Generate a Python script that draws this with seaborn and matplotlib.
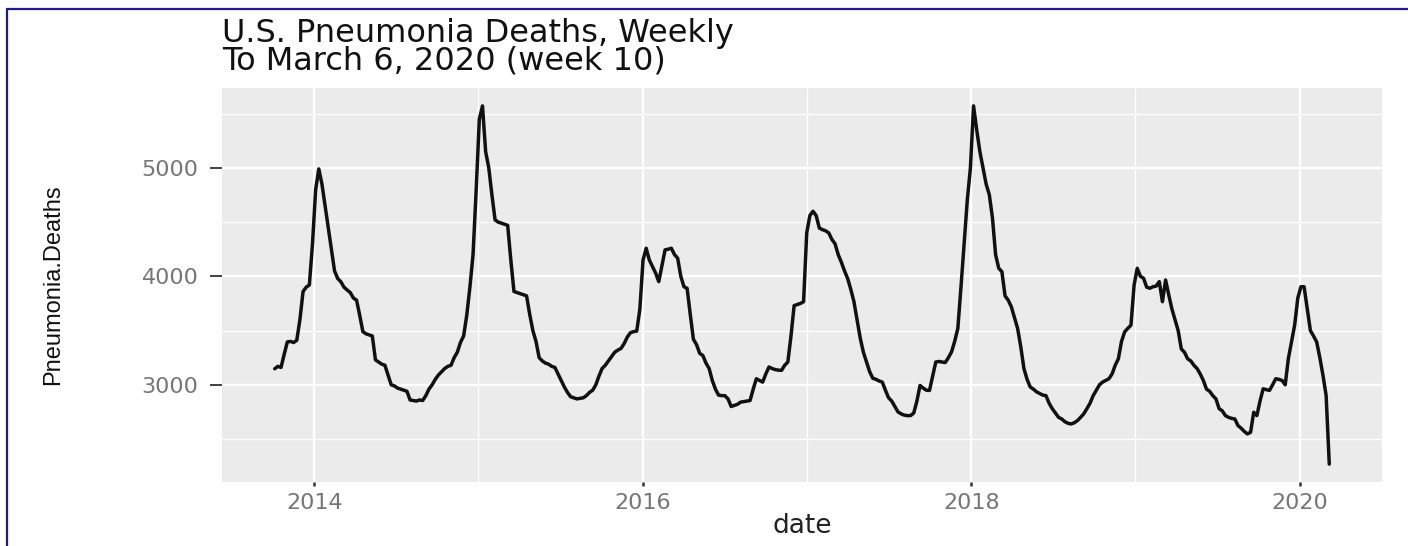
import matplotlib
matplotlib.use('Agg')
import matplotlib.pyplot as plt
import matplotlib.dates as mdates
from matplotlib import font_manager
from matplotlib.lines import Line2D
from matplotlib.ticker import FixedLocator
import seaborn as sns
import pandas as pd

# Weekly series, first week ending 2013-10-05, last week ending 2020-03-07 (week 10)
start_week = '2013-10-05'
deaths = [
    3148, 3170, 3160, 3280, 3395, 3400, 3390, 3410, 3600, 3860,
    3900, 3920, 4300, 4800, 4990, 4850, 4650, 4450, 4250, 4050,
    3980, 3950, 3900, 3874, 3850, 3800, 3780, 3640, 3490, 3470,
    3460, 3450, 3230, 3210, 3190, 3180, 3090, 3000, 2990, 2970,
    2960, 2950, 2940, 2860, 2855, 2850, 2860, 2855, 2900, 2960,
    3000, 3050, 3090, 3120, 3150, 3170, 3180, 3250, 3300, 3390,
    3450, 3640, 3900, 4200, 4800, 5450, 5571, 5150, 5000, 4750,
    4520, 4500, 4490, 4480, 4470, 4150, 3860, 3850, 3840, 3830,
    3820, 3650, 3500, 3400, 3250, 3220, 3200, 3190, 3170, 3160,
    3100, 3040, 2980, 2930, 2890, 2880, 2870, 2875, 2880, 2900,
    2930, 2950, 3000, 3080, 3150, 3180, 3220, 3260, 3300, 3320,
    3335, 3380, 3440, 3480, 3490, 3495, 3700, 4150, 4259, 4150,
    4090, 4030, 3951, 4100, 4244, 4250, 4259, 4200, 4167, 4000,
    3904, 3889, 3650, 3420, 3370, 3290, 3270, 3200, 3150, 3040,
    2960, 2905, 2900, 2900, 2870, 2800, 2810, 2820, 2840, 2845,
    2850, 2855, 2960, 3056, 3040, 3025, 3100, 3164, 3150, 3140,
    3135, 3133, 3180, 3210, 3450, 3730, 3740, 3750, 3766, 4400,
    4560, 4600, 4560, 4445, 4430, 4420, 4400, 4340, 4300, 4200,
    4130, 4050, 3980, 3880, 3766, 3600, 3430, 3300, 3210, 3120,
    3060, 3050, 3035, 3025, 2950, 2880, 2850, 2800, 2750, 2732,
    2720, 2716, 2716, 2740, 2850, 2994, 2970, 2950, 2948, 3080,
    3210, 3215, 3210, 3205, 3250, 3303, 3400, 3519, 3900, 4300,
    4700, 5000, 5571, 5350, 5150, 5000, 4850, 4753, 4540, 4200,
    4074, 4043, 3820, 3780, 3719, 3620, 3519, 3350, 3150, 3050,
    2980, 2960, 2935, 2920, 2905, 2900, 2830, 2780, 2740, 2700,
    2685, 2660, 2645, 2639, 2650, 2670, 2700, 2732, 2780, 2830,
    2900, 2950, 3000, 3025, 3040, 3056, 3100, 3180, 3240, 3400,
    3488, 3520, 3550, 3920, 4074, 4000, 3982, 3900, 3890, 3904,
    3910, 3951, 3766, 3966, 3830, 3700, 3600, 3500, 3330, 3300,
    3240, 3220, 3180, 3150, 3100, 3040, 2960, 2940, 2900, 2870,
    2780, 2760, 2716, 2700, 2690, 2685, 2624, 2600, 2570, 2547,
    2562, 2747, 2716, 2850, 2963, 2955, 2948, 3000, 3056, 3050,
    3040, 3000, 3241, 3395, 3550, 3800, 3904, 3904, 3700, 3500,
    3450, 3395, 3250, 3087, 2902, 2269,
]
y_major = [3000, 4000, 5000]
y_minor = [2500, 3500, 4500, 5500]
x_major_years = [2014, 2016, 2018, 2020]
x_minor_years = [2015, 2017, 2019]
title_lines = ['U.S. Pneumonia Deaths, Weekly', 'To March 6, 2020 (week 10)']

df = pd.DataFrame({
    'date': pd.date_range(start_week, periods=len(deaths), freq='7D'),
    'Pneumonia.Deaths': deaths,
})

sns.set_theme(style='darkgrid')
plt.rcParams['font.family'] = ['DejaVu Sans']

names = {f.name for f in font_manager.fontManager.ttflist}
ylab_font = 'Liberation Sans Narrow' if 'Liberation Sans Narrow' in names else 'Liberation Sans'

fig = plt.figure(figsize=(14.08, 5.46), dpi=100)
fig.patch.set_facecolor('white')
ax = fig.add_axes([222 / 1408, 1 - 482 / 546, 1160 / 1408, 394 / 546])
ax.set_facecolor('#EBEBEB')

sns.lineplot(data=df, x='date', y='Pneumonia.Deaths', ax=ax, color='#111111', linewidth=2.5)
ax.margins(x=0.05, y=0.05)   # ggplot default expansion

# ticks + grid, ggplot theme_gray look
ax.yaxis.set_major_locator(FixedLocator(y_major))
ax.yaxis.set_minor_locator(FixedLocator(y_minor))
ax.xaxis.set_major_locator(FixedLocator([mdates.date2num(pd.Timestamp(f'{y}-01-01')) for y in x_major_years]))
ax.xaxis.set_minor_locator(FixedLocator([mdates.date2num(pd.Timestamp(f'{y}-01-01')) for y in x_minor_years]))
ax.xaxis.set_major_formatter(mdates.DateFormatter('%Y'))
ax.grid(which='major', color='white', linewidth=1.7)
ax.grid(which='minor', color='white', linewidth=0.9)
for s in ax.spines.values():
    s.set_visible(False)

ax.tick_params(axis='y', which='major', length=9, width=1.3, color='#333333', pad=8,
               labelsize=16, labelcolor='#767676', left=True)
ax.tick_params(axis='x', which='major', length=3, width=1.8, color='#333333', pad=5,
               labelsize=16, labelcolor='#767676', bottom=True)
ax.tick_params(which='minor', length=0)

ax.set_xlabel('date', fontsize=19, color='#222222')
ax.xaxis.set_label_coords(0.5, -(526 - 482) / 394)
ax.xaxis.label.set_va('center')
ax.set_ylabel('Pneumonia.Deaths', fontsize=17, color='#111111', family=ylab_font)
ax.yaxis.set_label_coords((53 - 222) / 1160, 0.5)
ax.yaxis.label.set_va('center')

fig.text(222 / 1408, 1 - 18 / 546, '\n'.join(title_lines), ha='left', va='top',
         fontsize=23, color='#111111', linespacing=0.86)

# dark blue frame along the top and left edge
fig.add_artist(Line2D([7 / 1408, 7 / 1408], [0, 1 - 9 / 546], color='#1c1c8a', linewidth=1.6, transform=fig.transFigure))
fig.add_artist(Line2D([7 / 1408, 1], [1 - 9 / 546, 1 - 9 / 546], color='#1c1c8a', linewidth=1.6, transform=fig.transFigure))

fig.savefig('out.png', dpi=100)
